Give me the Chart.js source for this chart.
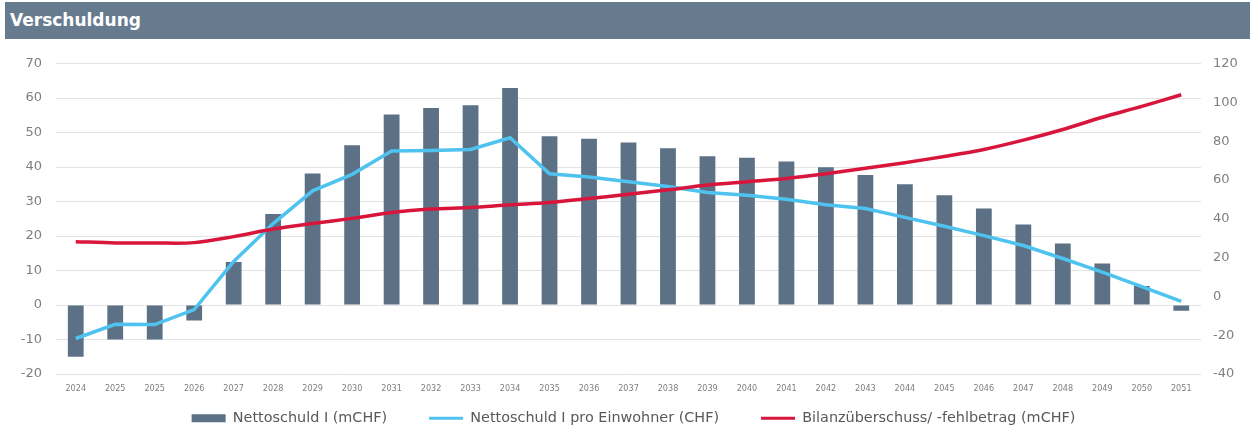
<!DOCTYPE html>
<html>
<head>
<meta charset="utf-8">
<script src="https://cdn.jsdelivr.net/npm/chart.js@4"></script>
<style>
  body { margin: 0; background: #fff; }
  .header {
    position: absolute; left: 5px; top: 2px; width: 1245px; height: 37px;
    background: #677b8f; color: #fff;
    font: bold 17px "DejaVu Sans", sans-serif;
    line-height: 37px; padding-left: 5px; box-sizing: border-box;
  }
  .chart-box { position: absolute; left: 0; top: 40px; width: 1253px; height: 390px; }
</style>
</head>
<body>
<div class="header">Verschuldung</div>
<div class="chart-box"><canvas id="debtChart"></canvas></div>
<script>
// Chart data
const years = ['2024', '2025', '2025', '2026', '2027', '2028', '2029', '2030', '2031', '2032',
  '2033', '2034', '2035', '2036', '2037', '2038', '2039', '2040', '2041', '2042',
  '2043', '2044', '2045', '2046', '2047', '2048', '2049', '2050', '2051'];
const nettoschuld = [-15, -10, -10, -4.5, 12.5, 26.4, 38.1, 46.3, 55.2, 57.1,
  57.9, 62.9, 48.9, 48.2, 47.1, 45.4, 43.1, 42.7, 41.6, 39.9,
  37.7, 35.0, 31.8, 28.0, 23.3, 17.8, 12.0, 5.5, -1.7];
const proEinwohner = [-21.7, -14.4, -14.5, -6.8, 18, 37.5, 54.4, 62.9, 74.9, 75.2,
  75.7, 81.7, 63.2, 61.5, 59.1, 56.6, 53.5, 52.1, 50.1, 47.2,
  45.3, 40.7, 36.1, 31.3, 26.2, 19.5, 12.5, 5, -2.6];
const bilanz = [28.2, 27.5, 27.5, 27.7, 30.8, 34.7, 37.6, 40.2, 43.2, 45,
  45.8, 47.2, 48.4, 50.4, 52.6, 54.9, 57.4, 59.1, 60.8, 63.2,
  66, 68.9, 72.1, 75.7, 80.5, 86, 92.3, 97.9, 103.9];
const leftTicks = [-20, 70, 10];
const rightTicks = [-40, 120, 20];

const barColor = '#5d7186';
const blueColor = '#4fc3ef';
const redColor = '#d8163c';

// Keep wide gaps between legend items but a short legend box
const compactLegend = {
  id: 'compactLegend',
  afterInit(chart) {
    const legend = chart.legend;
    const origFit = legend.fit;
    legend.fit = function () {
      origFit.call(this);
      this.height = 34;
    };
  },
  afterLayout(chart) {
    // stretch the legend box upwards (it clips to its box) so the text sits where it should
    chart.legend.top = chart.legend.bottom - 61;
    chart.legend.left += 7;
    chart.legend.right += 7;
  }
};

const ctx = document.getElementById('debtChart').getContext('2d');
const debtChart = new Chart(ctx, {
  type: 'bar',
  data: {
    labels: years,
    datasets: [{
      label: 'Nettoschuld I (mCHF)',
      data: nettoschuld,
      yAxisID: 'y',
      backgroundColor: barColor,
      barPercentage: 0.8,
      categoryPercentage: 0.5,
      order: 2
    }, {
      type: 'line',
      label: 'Nettoschuld I pro Einwohner (CHF)',
      data: proEinwohner,
      yAxisID: 'y2',
      borderColor: blueColor,
      backgroundColor: blueColor,
      borderWidth: 3.5,
      pointRadius: 0,
      tension: 0,
      order: 1
    }, {
      type: 'line',
      label: 'Bilanzüberschuss/ -fehlbetrag (mCHF)',
      data: bilanz,
      yAxisID: 'y2',
      borderColor: redColor,
      backgroundColor: redColor,
      borderWidth: 3.5,
      pointRadius: 0,
      tension: 0.3,
      order: 0
    }]
  },
  plugins: [compactLegend],
  options: {
    responsive: true,
    maintainAspectRatio: false,
    animation: false,
    layout: { padding: { top: 23.5, left: 0, right: 0, bottom: 0 } },
    plugins: {
      tooltip: { enabled: false },
      legend: {
        position: 'bottom',
        labels: {
          color: '#595959',
          font: { family: 'DejaVu Sans', size: 14.4 },
          usePointStyle: true,
          pointStyleWidth: 34,
          boxHeight: 8,
          padding: 42,
          generateLabels: function (chart) {
            return chart.data.datasets.map((ds, i) => {
              const isBar = ds.type !== 'line';
              return {
                text: ds.label,
                datasetIndex: i,
                pointStyle: isBar ? 'rect' : 'line',
                fillStyle: isBar ? barColor : ds.borderColor,
                strokeStyle: isBar ? barColor : ds.borderColor,
                lineWidth: isBar ? 0 : 3,
                fontColor: '#595959'
              };
            });
          }
        }
      }
    },
    scales: {
      x: {
        grid: { display: false, drawTicks: false },
        border: { display: false },
        ticks: {
          color: '#7f7f7f',
          font: { family: 'DejaVu Sans Condensed', size: 9 },
          maxRotation: 0,
          autoSkip: false,
          padding: 9
        },
        afterFit: (scale) => { scale.height = 22; }
      },
      y: {
        position: 'left',
        min: leftTicks[0],
        max: leftTicks[1],
        ticks: {
          stepSize: leftTicks[2],
          color: '#7f7f7f',
          font: { family: 'DejaVu Sans', size: 13 },
          padding: 14
        },
        grid: { color: '#e3e3e3', lineWidth: 1, drawTicks: false },
        border: { display: false },
        afterFit: (scale) => { scale.width = 56; }
      },
      y2: {
        position: 'right',
        min: rightTicks[0],
        max: rightTicks[1],
        ticks: {
          stepSize: rightTicks[2],
          color: '#7f7f7f',
          font: { family: 'DejaVu Sans', size: 13 },
          padding: 12
        },
        grid: { display: false, drawTicks: false },
        border: { display: false },
        afterFit: (scale) => { scale.width = 52; }
      }
    }
  }
});
</script>
</body>
</html>
